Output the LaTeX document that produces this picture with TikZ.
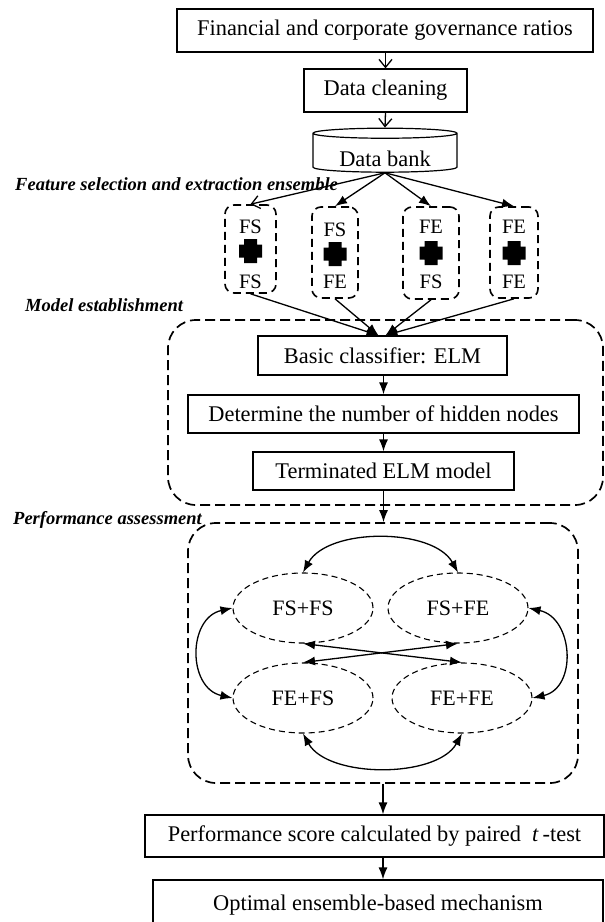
\documentclass[tikz,border=0pt]{standalone}
\usepackage{fontspec}
\setmainfont{Liberation Serif}
\usetikzlibrary{positioning,calc,arrows.meta,shapes.geometric}

\tikzset{
  procbox/.style={draw, line width=1.2pt, inner sep=0pt,
    font=\fontsize{22.4}{26}\selectfont},
  groupbox/.style={draw, line width=1.7pt, dash pattern=on 10pt off 5pt,
    rounded corners=28pt, inner sep=0pt},
  ensbox/.style={draw, line width=1.6pt, dash pattern=on 8pt off 5pt,
    rounded corners=9pt, inner sep=0pt},
  enstext/.style={font=\fontsize{20.5}{24}\selectfont, inner sep=0pt},
  pairnode/.style={ellipse, draw, line width=1.1pt, dash pattern=on 6pt off 4pt,
    inner sep=0pt, minimum width=140pt, minimum height=70pt,
    font=\fontsize{22}{26}\selectfont},
  stagelabel/.style={anchor=west, inner sep=0pt,
    font=\fontsize{18.5}{22}\selectfont\bfseries\itshape},
  flow/.style={line width=1.3pt, -{Latex[length=12pt,width=9pt]}},
  openflow/.style={line width=1.3pt, -{Straight Barb[length=8pt,width=13pt]}},
  twoway/.style={line width=1.3pt,
    {Latex[length=12pt,width=9pt]}-{Latex[length=12pt,width=9pt]}},
}

% heavy plus between the two parts of an ensemble
\newcommand{\joincross}[1]{%
  \fill ($(#1)+(-6.5,-12)$) -- ++(13,0) -- ++(0,5.5) -- ++(5,0) -- ++(0,13)
    -- ++(-5,0) -- ++(0,5.5) -- ++(-13,0) -- ++(0,-5.5) -- ++(-5,0) -- ++(0,-13)
    -- ++(5,0) -- cycle;}

\begin{document}
\begin{tikzpicture}[x=1pt,y=-1pt]
   \useasboundingbox (0,0) rectangle (605,922);
   \clip (0,0) rectangle (605,922);

   % data preparation
   \node[procbox, minimum width=416pt, minimum height=43pt] (ratios) at (385,30.5)
      {Financial and corporate governance ratios};
   \node[procbox, minimum width=163pt, minimum height=43pt] (clean) at (385.5,90.5)
      {Data cleaning};
   \node[procbox, cylinder, shape border rotate=90, aspect=0.11,
      minimum width=144pt, minimum height=44pt, text height=27pt, text depth=0pt]
      (bank) at (385,153) {Data bank};

   % feature selection and extraction ensemble
   \node[stagelabel] (fslabel) at (15,184) {Feature selection and extraction ensemble};

   \node[ensbox, minimum width=51pt, minimum height=88pt] (fs1) at (250.5,249) {};
   \node[ensbox, minimum width=46pt, minimum height=91pt] (fs2) at (335,252.5) {};
   \node[ensbox, minimum width=56pt, minimum height=92pt] (fs3) at (431,253) {};
   \node[ensbox, minimum width=48pt, minimum height=91pt] (fs4) at (514,252.5) {};

   \node[enstext] (fs1a) at (250.5,227) {FS};
   \node[enstext] (fs1b) at (250.5,282) {FS};
   \node[enstext] (fs2a) at (335,230) {FS};
   \node[enstext] (fs2b) at (335,282) {FE};
   \node[enstext] (fs3a) at (431,227) {FE};
   \node[enstext] (fs3b) at (431,282) {FS};
   \node[enstext] (fs4a) at (514,227) {FE};
   \node[enstext] (fs4b) at (514,282) {FE};
   \coordinate (c1) at (250.5,251);
   \coordinate (c2) at (335,254);
   \coordinate (c3) at (431,253);
   \coordinate (c4) at (514,253);
   \joincross{c1}
   \joincross{c2}
   \joincross{c3}
   \joincross{c4}

   % model establishment
   \node[stagelabel] (melabel) at (25,305) {Model establishment};
   \node[groupbox, minimum width=435pt, minimum height=185pt] (modelgrp)
      at (385.5,412.5) {};
   \node[procbox, minimum width=249pt, minimum height=39pt] (basic) at (382.5,355.5)
      {Basic classifier: ELM};
   \node[procbox, minimum width=391pt, minimum height=38pt] (hidden) at (383.5,414)
      {Determine the number of hidden nodes};
   \node[procbox, minimum width=261pt, minimum height=38pt] (final) at (383.5,471)
      {Terminated ELM model};

   % performance assessment
   \node[stagelabel] (palabel) at (13,520) {Performance assessment};
   \node[groupbox, minimum width=390pt, minimum height=260pt] (perfgrp)
      at (383,653) {};
   \node[pairnode] (p11) at (303,608) {FS+FS};
   \node[pairnode] (p12) at (458,608) {FS+FE};
   \node[pairnode] (p21) at (303,698) {FE+FS};
   \node[pairnode] (p22) at (462,698) {FE+FE};

   \node[procbox, minimum width=459pt, minimum height=42pt] (score) at (374.5,836)
      {Performance score calculated by paired\ \ \textit{t}\,-test};
   \node[procbox, minimum width=450pt, minimum height=50pt] (optimal) at (378,905)
      {Optimal ensemble-based mechanism};

   % connectors
   \draw[openflow] (ratios.south -| clean) -- (clean.north);
   \draw[openflow] (clean.south) -- (bank.north);
   \draw[openflow] (bank.south) -- (fs1.north);
   \draw[flow] (bank.south) -- (fs2.north);
   \draw[flow] (bank.south) -- (fs3.north);
   \draw[flow] (bank.south) -- (fs4.north);

   \draw[flow] (fs1.south) -- ([xshift=-4pt]basic.north);
   \draw[flow] (fs2.south) -- ([xshift=-4pt]basic.north);
   \draw[flow] (fs3.south) -- ([xshift=3pt]basic.north);
   \draw[flow] (fs4.south) -- ([xshift=3pt]basic.north);

   \draw[flow] (basic.south -| hidden) -- (hidden.north);
   \draw[flow] (hidden.south) -- (final.north);
   \draw[flow] (final.south) -- (final.south |- perfgrp.north);

   \draw[twoway] (p11.north) .. controls +(25,-45) and +(-25,-45) .. (p12.north);
   \draw[twoway] (p11.west) .. controls +(-45,10) and +(-45,-10) .. (p21.west);
   \draw[twoway] (p12.east) .. controls +(45,10) and +(45,-10) .. (p22.east);
   \draw[twoway] (p21.south) .. controls +(25,45) and +(-25,45) .. (p22.south);
   \draw[twoway] (p11.south) -- (p22.north);
   \draw[twoway] (p12.south) -- (p21.north);

   \draw[flow] (perfgrp.south) -- (perfgrp.south |- score.north);
   \draw[flow] (score.south -| perfgrp) -- (perfgrp |- optimal.north);
\end{tikzpicture}
\end{document}
